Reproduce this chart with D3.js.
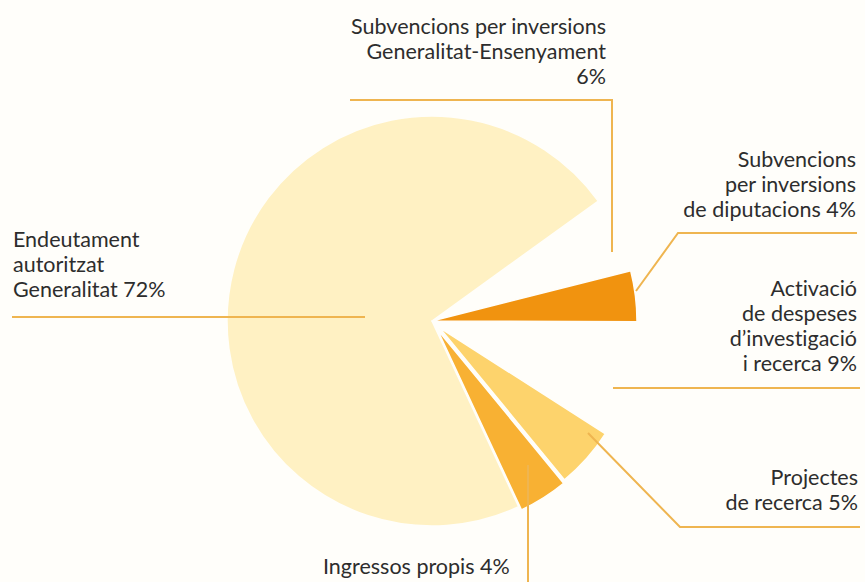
<!DOCTYPE html>
<html>
<head>
<meta charset="utf-8">
<script src="https://cdn.jsdelivr.net/npm/d3@7"></script>
<style>
  html, body { margin: 0; padding: 0; background: #fffefa; }
  svg { display: block; }
  text { font-family: Lato, "Open Sans", sans-serif; fill: #2d2d2d; font-variant-ligatures: none; }
</style>
</head>
<body>
<svg id="chart" width="865" height="582"></svg>
<script>
// Funding sources (share of total, %)
const categories = [
  "Endeutament autoritzat Generalitat",
  "Subvencions per inversions Generalitat-Ensenyament",
  "Subvencions per inversions de diputacions",
  "Activació de despeses d’investigació i recerca",
  "Projectes de recerca",
  "Ingressos propis"
];
const values = [72, 6, 4, 9, 5, 4];

// Label text, one entry per line
const labelLines = [
  ["Endeutament", "autoritzat", "Generalitat 72%"],
  ["Subvencions per inversions", "Generalitat-Ensenyament", "6%"],
  ["Subvencions", "per inversions", "de diputacions 4%"],
  ["Activació", "de despeses", "d’investigació", "i recerca 9%"],
  ["Projectes", "de recerca 5%"],
  ["Ingressos propis 4%"]
];

// Slice styling
const sliceFill = ["#fff1c3", "none", "#f1930f", "none", "#fdd36c", "#f8b133"];
const explode = [0, 0, 0, 0, 10, 10];
const radiusOf = [205, 205, 205, 205, 197, 199];

// Label placement: anchor point of the first line, alignment, line spacing
const labelLayout = [
  { x: 13,  y: 247, anchor: "start", lh: 25 },
  { x: 606, y: 34,  anchor: "end",   lh: 25 },
  { x: 856, y: 167, anchor: "end",   lh: 25 },
  { x: 857, y: 296, anchor: "end",   lh: 25 },
  { x: 858, y: 485, anchor: "end",   lh: 25 },
  { x: 323, y: 574, anchor: "start", lh: 25 }
];

// Leader lines
const leaders = [
  [[12, 317], [365, 317]],
  [[350, 100], [612, 100], [612, 252]],
  [[857, 233], [678, 233], [636, 291]],
  [[860, 388], [613, 388]],
  [[860, 527], [680, 527], [588, 433]],
  [[528, 465], [528, 582]]
];

const svg = d3.select("#chart");
const cx = 432, cy = 321;
const start = 155 * Math.PI / 180;

const pie = d3.pie().sort(null).value(d => d)
  .startAngle(start).endAngle(start + 2 * Math.PI);
const arcs = pie(values);

const g = svg.append("g").attr("transform", `translate(${cx},${cy})`);

g.selectAll("path.slice")
  .data(arcs)
  .join("path")
  .attr("class", "slice")
  .attr("d", (d, i) => d3.arc().innerRadius(0).outerRadius(radiusOf[i])(d))
  .attr("transform", (d, i) => {
    const a = (d.startAngle + d.endAngle) / 2;
    return `translate(${explode[i] * Math.sin(a)},${-explode[i] * Math.cos(a)})`;
  })
  .attr("fill", (d, i) => sliceFill[i])
  .attr("stroke", (d, i) => sliceFill[i] === "none" ? "none" : "#fffefa")
  .attr("stroke-width", 1.5)
  .attr("stroke-linejoin", "round");

const line = d3.line();
svg.selectAll("path.leader")
  .data(leaders)
  .join("path")
  .attr("class", "leader")
  .attr("d", d => line(d))
  .attr("fill", "none")
  .attr("stroke", "#efb550")
  .attr("stroke-width", 2);

labelLines.forEach((lines, i) => {
  const L = labelLayout[i];
  const t = svg.append("text")
    .attr("x", L.x).attr("y", L.y)
    .attr("text-anchor", L.anchor)
    .attr("font-size", 21.5);
  lines.forEach((s, k) => {
    t.append("tspan").attr("x", L.x).attr("y", L.y + k * L.lh).text(s);
  });
});
</script>
</body>
</html>
